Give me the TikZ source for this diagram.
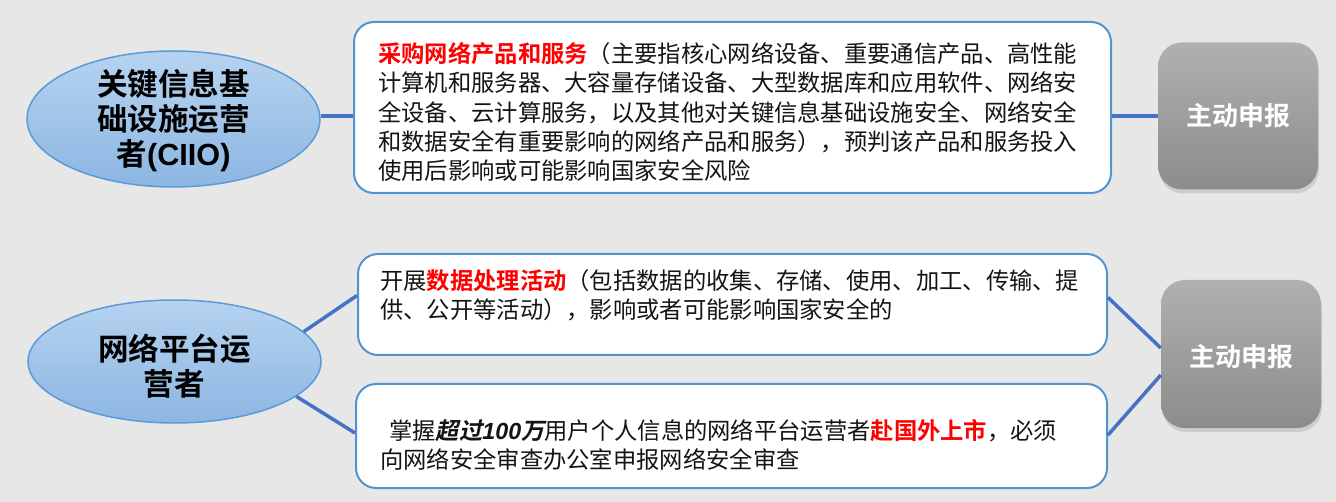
\documentclass[tikz,border=0pt]{standalone}
\usepackage{fontspec}
\setmainfont{Noto Sans CJK SC}[BoldFont={Noto Sans CJK SC Bold},ItalicFont={Noto Sans CJK SC},ItalicFeatures={FakeSlant=0.2},BoldItalicFont={Noto Sans CJK SC Bold},BoldItalicFeatures={FakeSlant=0.2}]
\newfontfamily\lat{Liberation Sans}
\usetikzlibrary{shapes.geometric,shadows,calc}
\definecolor{bgc}{RGB}{231,231,231}
\definecolor{ellB}{RGB}{91,155,213}
\definecolor{ellT}{RGB}{182,211,240}
\definecolor{ellBot}{RGB}{140,182,226}
\definecolor{boxB}{RGB}{80,148,210}
\definecolor{connC}{RGB}{68,114,196}
\definecolor{grayT}{RGB}{176,176,176}
\definecolor{grayBot}{RGB}{140,140,140}
\definecolor{redT}{RGB}{255,0,0}
\definecolor{txt}{RGB}{20,20,20}
\tikzset{
  ell/.style={ellipse, draw=ellB, line width=1.5pt, top color=ellT, bottom color=ellBot, minimum width=293pt, inner sep=0pt},
  elltext/.style={align=center, inner sep=0pt, font=\fontsize{30.6}{35}\selectfont\bfseries, text=black},
  infobox/.style={rectangle, rounded corners=20pt, draw=boxB, line width=2pt, fill=white, inner sep=0pt},
  infotext/.style={anchor=west, align=left, inner sep=0pt, font=\fontsize{23.3}{29.3}\selectfont, text=txt},
  graybox/.style={rectangle, rounded corners=24pt, top color=grayT, bottom color=grayBot, minimum width=160pt, minimum height=147pt, inner sep=0pt, drop shadow={opacity=0.25, shadow xshift=1pt, shadow yshift=-4pt}},
  graytext/.style={inner sep=0pt, font=\fontsize{26}{30}\selectfont\bfseries, text=white},
  conn/.style={draw=connC, line width=3.5pt}
}
\begin{document}
\begin{tikzpicture}[x=1pt,y=-1pt]
\fill[bgc] (0,0) rectangle (1336,502);
\useasboundingbox (0,0) rectangle (1336,502);
% ellipses
\node[ell, minimum height=136pt] (e1) at (173.5,119) {};
\node[elltext] (e1t) at (173.5,121) {关键信息基\\础设施运营\\者{\lat (CIIO)}};
\node[ell, minimum height=123pt] (e2) at (174.5,361.5) {};
\node[elltext] (e2t) at (174.5,366) {网络平台运\\营者};
% info boxes
\node[infobox, minimum width=757pt, minimum height=171pt] (b1) at (732.5,107.5) {};
\node[infotext] (b1t) at (378,112) {{\color{redT}\bfseries 采购网络产品和服务}（主要指核心网络设备、重要通信产品、高性能\\
计算机和服务器、大容量存储设备、大型数据库和应用软件、网络安\\
全设备、云计算服务，以及其他对关键信息基础设施安全、网络安全\\
和数据安全有重要影响的网络产品和服务），预判该产品和服务投入\\
使用后影响或可能影响国家安全风险};
\node[infobox, minimum width=749pt, minimum height=101pt] (b2) at (732.5,304.5) {};
\node[infotext] (b2t) at (380,295) {开展{\color{redT}\bfseries 数据处理活动}（包括数据的收集、存储、使用、加工、传输、提\\
供、公开等活动），影响或者可能影响国家安全的};
\node[infobox, minimum width=751pt, minimum height=104pt] (b3) at (731.5,436) {};
\node[infotext] (b3t) at (380,445) {\hspace*{9pt}掌握{\bfseries\itshape 超过{\lat 100}万}用户个人信息的网络平台运营者{\color{redT}\bfseries 赴国外上市}，必须\\
向网络安全审查办公室申报网络安全审查};
% gray boxes
\node[graybox] (g1) at (1238,116) {};
\node[graytext] (g1t) at (g1.center) {主动申报};
\node[graybox, minimum height=148pt] (g2) at (1241,354) {};
\node[graytext] (g2t) at ($(g2.center)+(0,3)$) {主动申报};
% connectors
\draw[conn] (e1.east |- g1.west) -- (b1.west |- g1.west);
\draw[conn] (b1.east |- g1.west) -- (g1.west);
\draw[conn] (e2.13) -- ($(b2.west)+(0,-9)$);
\draw[conn] (e2.-16) -- ($(b3.west)+(0,-3)$);
\draw[conn] ($(b2.east)+(0,-7)$) -- ($(g2.west)+(0,-6)$);
\draw[conn] ($(b3.east)+(0,-1)$) -- ($(g2.west)+(0,21)$);
\end{tikzpicture}
\end{document}
